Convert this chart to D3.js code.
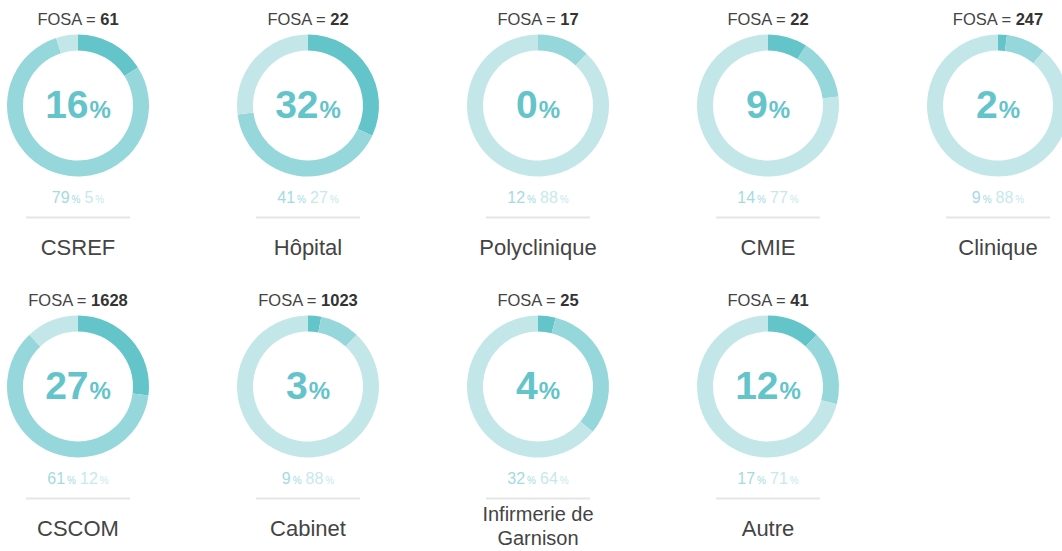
<!DOCTYPE html>
<html>
<head>
<meta charset="utf-8">
<script src="https://cdn.jsdelivr.net/npm/d3@7"></script>
<style>
  body { margin: 0; background: #fff; }
  svg { display: block; font-family: "Liberation Sans", Arial, sans-serif; }
</style>
</head>
<body>
<div id="chart"></div>
<script>
const categories = ["CSREF", "Hôpital", "Polyclinique", "CMIE", "Clinique", "CSCOM", "Cabinet", "Infirmerie de Garnison", "Autre"];
const fosa = [61, 22, 17, 22, 247, 1628, 1023, 25, 41];
const mainPct = [16, 32, 0, 9, 2, 27, 3, 4, 12];
const secondPct = [79, 41, 12, 14, 9, 61, 9, 32, 17];
const thirdPct = [5, 27, 88, 77, 88, 12, 88, 64, 71];

const width = 1062, height = 551;
const cols = 5;
const colors = ["#63c4ca", "#96d7dc", "#c3e7e9"];
const smallColors = ["#a3dbdf", "#c6e9eb"];

const svg = d3.select("#chart").append("svg")
    .attr("width", width).attr("height", height);

const x = d3.scaleLinear().domain([0, cols - 1]).range([78, 998]);
const y = d3.scaleLinear().domain([0, 1]).range([0, 281]);

const pie = d3.pie().sort(null).value(d => d);
const arc = d3.arc().innerRadius(55).outerRadius(71);

categories.forEach((cat, i) => {
    const g = svg.append("g")
        .attr("transform", `translate(${x(i % cols)},${y(Math.floor(i / cols))})`);

    // title
    const title = g.append("text")
        .attr("y", 25)
        .attr("text-anchor", "middle")
        .attr("font-size", 16.5)
        .attr("fill", "#444");
    title.append("tspan").text("FOSA = ");
    title.append("tspan").attr("font-weight", "bold").attr("fill", "#333").text(fosa[i]);

    // donut
    const donut = g.append("g").attr("transform", "translate(0,105.5)");
    donut.selectAll("path")
        .data(pie([mainPct[i], secondPct[i], thirdPct[i]]))
        .enter().append("path")
        .attr("d", arc)
        .attr("fill", (d, j) => colors[j]);

    const big = donut.append("text")
        .attr("y", 12.5)
        .attr("text-anchor", "middle")
        .attr("font-weight", "bold")
        .attr("fill", colors[0]);
    big.append("tspan").attr("font-size", 39).text(mainPct[i]);
    big.append("tspan").attr("font-size", 24).attr("dx", 1).text("%");

    // small values
    const small = g.append("text")
        .attr("y", 203)
        .attr("text-anchor", "middle")
        .attr("font-size", 16);
    small.append("tspan").attr("fill", smallColors[0]).text(secondPct[i]);
    small.append("tspan").attr("fill", smallColors[0]).attr("font-size", 10).attr("dx", 2).text("%");
    small.append("tspan").attr("fill", smallColors[1]).attr("dx", 4).text(thirdPct[i]);
    small.append("tspan").attr("fill", smallColors[1]).attr("font-size", 10).attr("dx", 2).text("%");

    g.append("line")
        .attr("x1", -52).attr("x2", 52)
        .attr("y1", 217.5).attr("y2", 217.5)
        .attr("stroke", "#e5e5e5")
        .attr("stroke-width", 2);

    // category label, wrapped (and slightly smaller) if too wide
    const label = g.append("text")
        .attr("text-anchor", "middle")
        .attr("font-size", 22)
        .attr("fill", "#444");
    const words = cat.split(" ");
    let lines = [cat];
    label.text(cat);
    if (label.node().getComputedTextLength() > 170 && words.length > 1) {
        lines = [words.slice(0, -1).join(" "), words[words.length - 1]];
        label.attr("font-size", 20);
    }
    label.text(null);
    const base = lines.length > 1 ? 240 : 254.5;
    lines.forEach((l, k) => {
        label.append("tspan").attr("x", 0).attr("y", base + k * 23.5).text(l);
    });
});
</script>
</body>
</html>
